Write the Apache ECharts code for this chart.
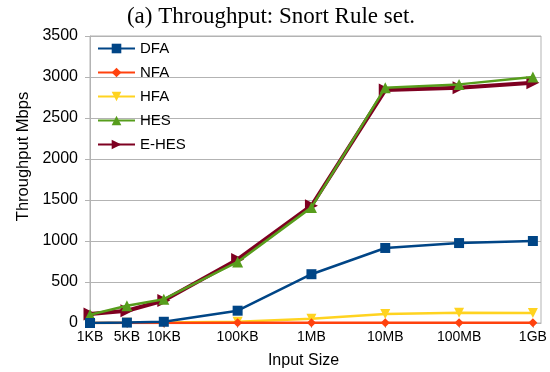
<!DOCTYPE html>
<html>
<head>
<meta charset="utf-8">
<script src="https://cdn.jsdelivr.net/npm/echarts@6/dist/echarts.min.js"></script>
<style>
  html, body { margin: 0; padding: 0; background: #fff; }
  #chart { width: 550px; height: 372px; }
</style>
</head>
<body>
<div id="chart"></div>
<script>
// Input sizes and their positions on the x axis (one step per decade, 5KB halfway)
const sizeLabels = ['1KB', '5KB', '10KB', '100KB', '1MB', '10MB', '100MB', '1GB'];
const sizePos = [0, 0.5, 1, 2, 3, 4, 5, 6];

// Throughput in Mbps for each automaton
const dfa  = [0, 5, 15, 150, 595, 915, 975, 1000];
const nfa  = [1, 1, 1, 2, 2, 2, 2, 2];
const hfa  = [1, 2, 5, 15, 52, 110, 125, 122];
const hes  = [100, 210, 290, 745, 1410, 2870, 2910, 3000];
const ehes = [110, 150, 275, 775, 1430, 2840, 2870, 2930];

const yTicks = [0, 500, 1000, 1500, 2000, 2500, 3000, 3500];

const pair = vals => vals.map((v, i) => [sizePos[i], v]);
const labelOf = v => {
  const i = sizePos.indexOf(v);
  return i >= 0 ? sizeLabels[i] : '';
};

const gridGray = '#b3b3b3';
const sans = 'Liberation Sans, Arial, sans-serif';

const chart = echarts.init(document.getElementById('chart'), null, { renderer: 'canvas' });

function series(name, data, color, symbol, size, width, extra) {
  return Object.assign({
    name: name,
    type: 'line',
    data: pair(data),
    symbol: symbol,
    symbolSize: size,
    showSymbol: true,
    lineStyle: { color: color, width: width },
    itemStyle: { color: color },
    animation: false
  }, extra || {});
}

chart.setOption({
  animation: false,
  title: {
    text: '(a) Throughput: Snort Rule set.',
    left: 266,
    textAlign: 'center',
    top: 0,
    textStyle: { fontFamily: 'Liberation Serif, Times New Roman, serif', fontWeight: 'normal', fontSize: 23, color: '#000' }
  },
  grid: {
    left: 90, right: 9, top: 36, bottom: 49,
    show: true, borderColor: gridGray, borderWidth: 1,
    outerBoundsMode: 'none'
  },
  legend: {
    orient: 'vertical',
    left: 92, top: 36,
    itemWidth: 37, itemHeight: 12, itemGap: 9,
    textStyle: { fontFamily: sans, fontSize: 15, color: '#000' },
    data: ['DFA', 'NFA', 'HFA', 'HES', 'E-HES']
  },
  xAxis: {
    type: 'value',
    min: 0, max: 6.11,
    name: 'Input Size',
    nameLocation: 'middle',
    nameGap: 30,
    nameTextStyle: { fontFamily: sans, fontSize: 16, color: '#000', padding: [0, 24, 0, 0] },
    axisLine: { show: true, lineStyle: { color: gridGray } },
    axisTick: { show: true, length: 5, lineStyle: { color: gridGray }, customValues: sizePos },
    axisLabel: { customValues: sizePos, formatter: labelOf, fontFamily: sans, fontSize: 14, color: '#000', margin: 7 },
    splitLine: { show: false }
  },
  yAxis: {
    type: 'value',
    min: 0, max: 3500, interval: 500,
    name: 'Throughput Mbps',
    nameLocation: 'middle',
    nameGap: 54,
    nameRotate: 90,
    nameTextStyle: { fontFamily: sans, fontSize: 16.5, color: '#000', padding: [0, 0, 0, 46] },
    axisLine: { show: true, lineStyle: { color: gridGray } },
    axisTick: { show: true, length: 5, lineStyle: { color: gridGray } },
    axisLabel: { customValues: yTicks, formatter: v => String(v), fontFamily: sans, fontSize: 16, color: '#000', margin: 12 },
    splitLine: { show: true, lineStyle: { color: gridGray, width: 1 } }
  },
  series: [
    series('E-HES', ehes, '#7e0021', 'triangle', 13, 4, { symbolRotate: -90, z: 2 }),
    series('HFA', hfa, '#ffd320', 'triangle', 10, 2.5, { symbolRotate: 180, z: 3 }),
    series('NFA', nfa, '#ff420e', 'diamond', 9, 2.5, { z: 4 }),
    series('HES', hes, '#579d1c', 'triangle', 11, 2.5, { z: 5 }),
    series('DFA', dfa, '#004586', 'rect', 10, 2.5, { z: 6 })
  ]
});
</script>
</body>
</html>
